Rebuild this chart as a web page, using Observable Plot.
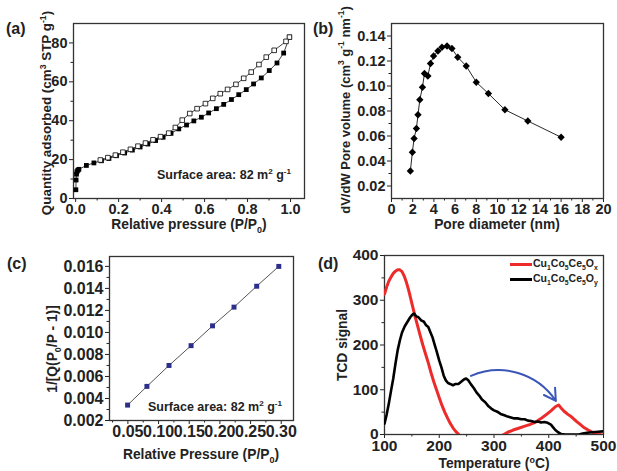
<!DOCTYPE html>
<html><head><meta charset="utf-8">
<script src="https://cdn.jsdelivr.net/npm/d3@7"></script>
<script src="https://cdn.jsdelivr.net/npm/@observablehq/plot@0.6"></script>
<style>
body{margin:0;background:#fff;}
#fig{position:relative;width:617px;height:471px;overflow:hidden;font-family:"Liberation Sans",Arial,sans-serif;font-weight:bold;color:#222;background:#fff;}
.panel{position:absolute;}
.panel svg{overflow:visible;}
.t{position:absolute;white-space:nowrap;font-size:13.8px;line-height:1;}
.yt{transform:translate(-50%,-50%) rotate(-90deg);}
.xt{transform:translate(-50%,-50%);}
.an{position:absolute;white-space:nowrap;font-size:12.5px;line-height:1;}
sup,sub{font-size:0.65em;line-height:0;}
.lab{position:absolute;font-size:16px;line-height:1;}
.leg{position:absolute;font-size:10.5px;white-space:nowrap;line-height:1;}
.leg span.ln{display:inline-block;width:22px;height:3px;vertical-align:middle;margin-right:1px;}
</style></head><body><div id="fig"></div>
<script>
// ---------- Panel (a): N2 isotherm ----------
const adsP = [0.001,0.002,0.004,0.006,0.010,0.015,0.05,0.085,0.12,0.155,0.19,0.228,0.264,0.30,0.336,0.372,0.407,0.444,0.48,0.516,0.55,0.585,0.619,0.655,0.689,0.725,0.759,0.794,0.828,0.864,0.901,0.937,0.968,0.995];
const adsQ = [4.5,9.5,12.5,13.8,14.5,15.0,17.0,18.3,19.4,20.6,22.0,23.4,24.9,26.5,28.0,29.8,31.5,33.5,35.8,37.8,39.9,41.8,44.0,46.2,48.4,50.9,53.4,56.0,58.9,62.0,65.8,69.7,74.8,83.0];
const desP = [0.995,0.979,0.924,0.887,0.853,0.817,0.782,0.746,0.707,0.673,0.638,0.604,0.565,0.531,0.496,0.464,0.433,0.395,0.36,0.325,0.29,0.255,0.22,0.185,0.15,0.115];
const desQ = [83.0,80.8,76.2,72.7,68.9,65.0,61.8,58.7,56.1,53.9,51.5,48.8,46.2,43.7,40.3,36.5,33.6,31.8,30.2,28.5,26.9,25.3,23.8,22.3,21.0,19.8];
const aXTicks = [0,0.2,0.4,0.6,0.8,1.0], aXMinor = [0.1,0.3,0.5,0.7,0.9];
const aYTicks = [0,20,40,60,80], aYMinor = [10,30,50,70];

// ---------- Panel (b): pore size distribution ----------
const poreD = [1.78,1.97,2.13,2.35,2.5,2.67,2.92,3.11,3.43,3.68,3.97,4.38,4.76,5.24,5.7,6.25,7.05,8.0,9.14,10.7,12.86,16.0];
const poreV = [0.032,0.047,0.058,0.066,0.077,0.089,0.099,0.110,0.108,0.118,0.124,0.128,0.131,0.132,0.130,0.123,0.116,0.103,0.094,0.081,0.072,0.059];
const bXTicks = [0,2,4,6,8,10,12,14,16,18,20], bXMinor = [1,3,5,7,9,11,13,15,17,19];
const bYTicks = [0.02,0.04,0.06,0.08,0.10,0.12,0.14], bYMinor = [0.03,0.05,0.07,0.09,0.11,0.13];

// ---------- Panel (c): BET plot ----------
const betP = [0.0495,0.081,0.117,0.153,0.188,0.223,0.260,0.296];
const betY = [0.0034,0.0051,0.0070,0.0088,0.0106,0.0123,0.0142,0.0160];
const cXTicks = [0.05,0.10,0.15,0.20,0.25,0.30], cXMinor = [0.025,0.075,0.125,0.175,0.225,0.275];
const cYTicks = [0.002,0.004,0.006,0.008,0.010,0.012,0.014,0.016], cYMinor = [0.003,0.005,0.007,0.009,0.011,0.013,0.015];

// ---------- Panel (d): H2-TPR ----------
const tempRed = [100,104,108,112,116,120,124,128,132,136,140,144,148,152,156,160,165,170,175,180,185,190,195,200,205,210,215,220,225,230,235,238,245,260,280,300,312,318,325,335,345,355,365,375,385,395,405,412,418,422,428,435,442,450,458,465,472,480,490,500];
const signalRed = [314,330,343,352,360,365,368,368,364,354,340,323,303,283,263,245,222,200,180,160,138,118,100,82,65,50,37,25,15,7,1,-4,-8,-10,-10,-8,-4,0,5,10,14,18,22,27,35,44,54,62,66,60,52,45,39,30,22,15,10,5,1,-2];
const tempBlack = [100,104,108,112,116,120,124,128,132,137,142,147,151,154,158,162,167,172,176,180,184,188,191,195,200,204,208,212,216,220,225,230,235,240,245,249,253,258,263,268,273,278,284,290,295,300,306,312,319,325,331,337,343,350,356,362,368,374,380,386,392,398,404,408,412,417,423,430,440,455,462,470,480,490,500];
const signalBlack = [24,45,70,98,125,158,188,210,228,242,252,262,268,270,264,262,255,252,244,240,228,216,203,187,165,150,132,121,115,113,110,113,113,118,123,125,121,112,104,94,87,78,72,63,58,54,51,46,43,40,38,36,36,34,34,31,30,28,29,27,28,26,22,16,10,5,1,0,0,0,2,4,5,6,7];
const dXTicks = [100,200,300,400,500], dXMinor = [150,250,350,450];
const dYTicks = [0,100,200,300,400], dYMinor = [50,150,250,350];
const arrowFrom = {t:[258], s:[131]}, arrowTo = {t:[413], s:[75]};

const FONT = '"Liberation Sans", Arial, sans-serif';
const fig = document.getElementById("fig");

function axes(xT, xM, yT, yM, xf, yf) {
  return [
    Plot.axisX({ticks: xT, tickFormat: xf, tickSize: 4, tickPadding: 1.5, label: null}),
    Plot.axisX({ticks: xM, tickFormat: () => "", tickSize: 2.5, label: null}),
    Plot.axisY({ticks: yT, tickFormat: yf, tickSize: 4, tickPadding: 2, label: null}),
    Plot.axisY({ticks: yM, tickFormat: () => "", tickSize: 2.5, label: null}),
    Plot.frame({stroke: "#333", strokeWidth: 1.3})
  ];
}
function place(svg, left, top) {
  const d = document.createElement("div");
  d.className = "panel"; d.style.left = left + "px"; d.style.top = top + "px";
  d.appendChild(svg); fig.appendChild(d);
}
function style(fs) {
  return {fontFamily: FONT, fontWeight: "bold", fontSize: fs + "px", color: "#222", background: "transparent"};
}
const zipXY = (xs, ys) => xs.map((x, i) => ({x, y: ys[i]}));

// (a)
const ads = zipXY(adsP, adsQ), des = zipXY(desP, desQ);
place(Plot.plot({
  width: 310, height: 220, marginTop: 23, marginLeft: 73, marginRight: 6, marginBottom: 22,
  x: {domain: [-0.01, 1.065]}, y: {domain: [0, 90]},
  style: style(14.5),
  marks: [
    ...axes(aXTicks, aXMinor, aYTicks, aYMinor, ".1f", "d"),
    Plot.line(ads, {x: "x", y: "y", stroke: "#111", strokeWidth: 0.8}),
    Plot.line(des, {x: "x", y: "y", stroke: "#111", strokeWidth: 0.8}),
    Plot.dot(ads, {x: "x", y: "y", symbol: "square", r: 2.7, fill: "#000", stroke: "none"}),
    Plot.dot(des, {x: "x", y: "y", symbol: "square", r: 2.6, fill: "#fff", stroke: "#000", strokeWidth: 0.8})
  ]
}), 0, 0);

// (b)
const pore = zipXY(poreD, poreV);
place(Plot.plot({
  width: 307, height: 220, marginTop: 23, marginLeft: 81, marginRight: 14, marginBottom: 22,
  x: {domain: [0, 20]}, y: {domain: [0.01, 0.15]},
  style: style(14.5),
  marks: [
    ...axes(bXTicks, bXMinor, bYTicks, bYMinor, "d", ".2f"),
    Plot.line(pore, {x: "x", y: "y", stroke: "#111", strokeWidth: 0.9}),
    Plot.dot(pore, {x: "x", y: "y", symbol: "diamond2", r: 3.3, fill: "#000", stroke: "none"})
  ]
}), 310, 0);

// (c)
const bet = zipXY(betP, betY);
place(Plot.plot({
  width: 310, height: 215, marginTop: 21, marginLeft: 109, marginRight: 17, marginBottom: 30,
  x: {domain: [0.02, 0.32]}, y: {domain: [0.002, 0.0169]},
  style: style(16),
  marks: [
    ...axes(cXTicks, cXMinor, cYTicks, cYMinor, ".2f", ".3f"),
    Plot.line(bet, {x: "x", y: "y", stroke: "#555", strokeWidth: 1}),
    Plot.dot(bet, {x: "x", y: "y", symbol: "square", r: 2.8, fill: "#2b2e8a", stroke: "none"})
  ]
}), 0, 235);

// (d)
const red = zipXY(tempRed, signalRed), black = zipXY(tempBlack, signalBlack);
place(Plot.plot({
  width: 307, height: 220, marginTop: 20, marginLeft: 74, marginRight: 14, marginBottom: 21,
  x: {domain: [100, 500]}, y: {domain: [0, 400]},
  style: style(15.5),
  marks: [
    ...axes(dXTicks, dXMinor, dYTicks, dYMinor, "d", "d"),
    Plot.line(red, {x: "x", y: "y", stroke: "#ee2b2b", strokeWidth: 3, clip: true}),
    Plot.line(black, {x: "x", y: "y", stroke: "#000", strokeWidth: 2.6, clip: true}),
    Plot.arrow([0], {x1: i => arrowFrom.t[i], y1: i => arrowFrom.s[i], x2: i => arrowTo.t[i], y2: i => arrowTo.s[i],
      bend: 40, stroke: "#3b56b8", strokeWidth: 2, headLength: 10})
  ]
}), 310, 235);

// ---------- HTML text: titles, labels, annotations ----------
const html = `
<div class="lab" style="left:6px;top:21px">(a)</div>
<div class="lab" style="left:313px;top:21px">(b)</div>
<div class="lab" style="left:7px;top:256px">(c)</div>
<div class="lab" style="left:318px;top:256px">(d)</div>
<div class="t yt" style="left:47px;top:113px;font-size:13.4px">Quantity adsorbed (cm<sup>3</sup> STP g<sup>-1</sup>)</div>
<div class="t xt" style="left:189px;top:225px">Relative pressure (P/P<sub>0</sub>)</div>
<div class="t yt" style="left:345px;top:110px;font-size:13px">dV/dW Pore volume (cm<sup>3</sup> g<sup>-1</sup> nm<sup>-1</sup>)</div>
<div class="t xt" style="left:497px;top:225px">Pore diameter (nm)</div>
<div class="t yt" style="left:53px;top:349px">1/[Q(P<sub>0</sub>/P - 1)]</div>
<div class="t xt" style="left:201px;top:455px">Relative Pressure (P/P<sub>0</sub>)</div>
<div class="t yt" style="left:343px;top:345px">TCD signal</div>
<div class="t xt" style="left:494px;top:464px">Temperature (<sup>o</sup>C)</div>
<div class="an" style="left:157px;top:169px">Surface area: 82 m<sup>2</sup> g<sup>-1</sup></div>
<div class="an" style="left:148px;top:401px">Surface area: 82 m<sup>2</sup> g<sup>-1</sup></div>
<div class="leg" style="left:510px;top:258px"><span class="ln" style="background:#ee2b2b"></span>Cu<sub>1</sub>Co<sub>5</sub>Ce<sub>5</sub>O<sub>x</sub></div>
<div class="leg" style="left:510px;top:273px"><span class="ln" style="background:#000"></span>Cu<sub>1</sub>Co<sub>5</sub>Ce<sub>5</sub>O<sub>y</sub></div>
`;
fig.insertAdjacentHTML("beforeend", html);
</script></body></html>
